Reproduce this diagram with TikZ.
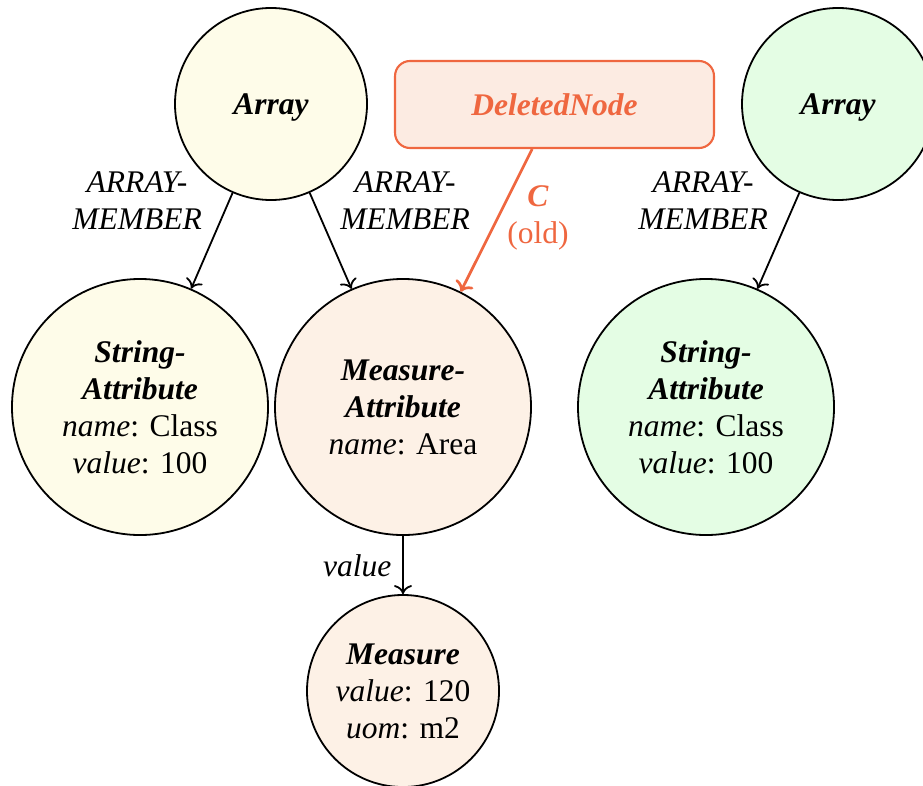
\documentclass[tikz,border=0pt]{standalone}
\usepackage{fontspec}
\setmainfont{Liberation Serif}
\usetikzlibrary{arrows.meta}
\definecolor{arrfill}{HTML}{FEFCE9}
\definecolor{newfill}{HTML}{E4FDE4}
\definecolor{measfill}{HTML}{FDF1E6}
\definecolor{delfill}{HTML}{FCEBE2}
\definecolor{delline}{HTML}{EF6740}
\begin{document}
\begin{tikzpicture}[x=0.3333pt,y=-0.3333pt,
  every node/.style={font=\fontsize{10.5}{12.3}\selectfont},
  ent/.style={circle,draw=black,line width=0.6pt,align=center,inner sep=0pt},
  bigent/.style={ent,minimum size=85.33pt},
  smallent/.style={ent,minimum size=64pt},
  oneline/.style={text depth=0pt},
  rel/.style={-{To[length=3pt,width=6pt]},line width=0.6pt},
  elabel/.style={align=center,font=\fontsize{10.5}{12.3}\selectfont\itshape},
  delbox/.style={rectangle,rounded corners=5pt,draw=delline,fill=delfill,line width=0.7pt,
    minimum width=106.3pt,minimum height=29pt,text=delline,text depth=0pt,
    font=\fontsize{10.5}{12.3}\selectfont\bfseries\itshape},
  delrel/.style={-{To[length=3.2pt,width=6.5pt]},draw=delline,line width=0.9pt},
  dellabel/.style={align=center,text=delline}]
\useasboundingbox (0,0) rectangle (923,785);

% entity nodes
\node[smallent,oneline,fill=arrfill] (arr1) at (271,104) {\textbf{\textit{Array}}};
\node[smallent,oneline,fill=newfill] (arr2) at (838,104) {\textbf{\textit{Array}}};
\node[delbox] (del) at (554.5,104.5) {DeletedNode};

\node[bigent,fill=arrfill] (sa1) at (140,407)
  {\textbf{\textit{String-}}\\\textbf{\textit{Attribute}}\\\textit{name}: Class\\\textit{value}: 100};
\node[bigent,fill=measfill] (ma) at (403,407)
  {\textbf{\textit{Measure-}}\\\textbf{\textit{Attribute}}\\\textit{name}: Area};
\node[bigent,fill=newfill] (sa2) at (706,407)
  {\textbf{\textit{String-}}\\\textbf{\textit{Attribute}}\\\textit{name}: Class\\\textit{value}: 100};
\node[smallent,fill=measfill] (meas) at (403,691)
  {\textbf{\textit{Measure}}\\\textit{value}: 120\\\textit{uom}: m2};

% relations
\draw[rel] (arr1) -- (sa1);
\draw[rel] (arr1) -- (ma);
\draw[rel] (arr2) -- (sa2);
\draw[rel] (ma) -- (meas);
\draw[delrel] (del) -- (ma);

% relation labels
\node[elabel] (l1) at (137,201) {ARRAY-\\MEMBER};
\node[elabel] (l2) at (405,201) {ARRAY-\\MEMBER};
\node[elabel] (l3) at (703,201) {ARRAY-\\MEMBER};
\node[elabel,anchor=east] (l4) at (402,566) {value};
\node[dellabel] (l5) at (538,218) {\textbf{\textit{C}}\\(old)};
\end{tikzpicture}
\end{document}
